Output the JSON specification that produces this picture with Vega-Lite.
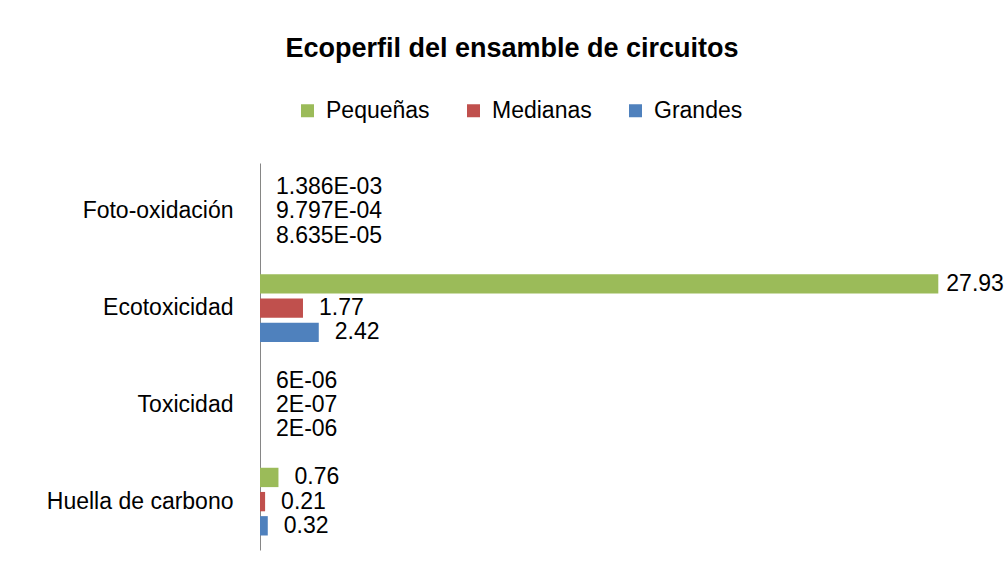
{
  "$schema": "https://vega.github.io/schema/vega-lite/v6.json",
  "autosize": {"type": "none"},
  "padding": {"left": 260, "top": 163, "right": 68, "bottom": 27},
  "width": 680,
  "height": 387,
  "background": "white",
  "title": {
    "text": "Ecoperfil del ensamble de circuitos",
    "font": "Liberation Sans",
    "fontSize": 27,
    "fontWeight": "bold",
    "color": "#000000",
    "anchor": "middle",
    "dx": -88,
    "offset": 36
  },
  "config": {
    "view": {"stroke": null},
    "font": "Liberation Sans"
  },
  "data": {
    "values": [
      {"categoria": "Foto-oxidación", "serie": "Pequeñas", "valor": 0.001386, "etiqueta": "1.386E-03"},
      {"categoria": "Foto-oxidación", "serie": "Medianas", "valor": 0.0009797, "etiqueta": "9.797E-04"},
      {"categoria": "Foto-oxidación", "serie": "Grandes", "valor": 0.00008635, "etiqueta": "8.635E-05"},
      {"categoria": "Ecotoxicidad", "serie": "Pequeñas", "valor": 27.93, "etiqueta": "27.93"},
      {"categoria": "Ecotoxicidad", "serie": "Medianas", "valor": 1.77, "etiqueta": "1.77"},
      {"categoria": "Ecotoxicidad", "serie": "Grandes", "valor": 2.42, "etiqueta": "2.42"},
      {"categoria": "Toxicidad", "serie": "Pequeñas", "valor": 0.000006, "etiqueta": "6E-06"},
      {"categoria": "Toxicidad", "serie": "Medianas", "valor": 0.0000002, "etiqueta": "2E-07"},
      {"categoria": "Toxicidad", "serie": "Grandes", "valor": 0.000002, "etiqueta": "2E-06"},
      {"categoria": "Huella de carbono", "serie": "Pequeñas", "valor": 0.76, "etiqueta": "0.76"},
      {"categoria": "Huella de carbono", "serie": "Medianas", "valor": 0.21, "etiqueta": "0.21"},
      {"categoria": "Huella de carbono", "serie": "Grandes", "valor": 0.32, "etiqueta": "0.32"}
    ]
  },
  "encoding": {
    "y": {
      "field": "categoria",
      "type": "nominal",
      "sort": ["Foto-oxidación", "Ecotoxicidad", "Toxicidad", "Huella de carbono"],
      "scale": {"paddingInner": 0.3, "paddingOuter": 0.15},
      "axis": {
        "title": null,
        "ticks": false,
        "domainColor": "#868686",
        "domainWidth": 1,
        "labelFontSize": 23,
        "labelColor": "#000000",
        "labelPadding": 27,
        "labelLimit": 400,
        "labelFont": "Liberation Sans"
      }
    },
    "yOffset": {
      "field": "serie",
      "type": "nominal",
      "sort": ["Pequeñas", "Medianas", "Grandes"],
      "scale": {"paddingInner": 0.2, "paddingOuter": 0}
    },
    "x": {
      "field": "valor",
      "type": "quantitative",
      "scale": {"domain": [0, 28], "nice": false},
      "axis": null
    }
  },
  "layer": [
    {
      "mark": {"type": "bar"},
      "encoding": {
        "color": {
          "field": "serie",
          "type": "nominal",
          "sort": ["Pequeñas", "Medianas", "Grandes"],
          "scale": {
            "domain": ["Pequeñas", "Medianas", "Grandes"],
            "range": ["#9BBB59", "#C0504D", "#4F81BD"]
          },
          "legend": {
            "title": null,
            "orient": "none",
            "direction": "horizontal",
            "legendX": 36,
            "legendY": -64,
            "symbolType": "square",
            "symbolSize": 169,
            "symbolStrokeWidth": 0,
            "labelFontSize": 23,
            "labelColor": "#000000",
            "labelFont": "Liberation Sans",
            "labelOffset": 7,
            "columnPadding": 32
          }
        }
      }
    },
    {
      "transform": [{"filter": "datum.valor < 20"}],
      "mark": {"type": "text", "align": "left", "baseline": "middle", "dx": 16, "fontSize": 23, "color": "#000000", "font": "Liberation Sans"},
      "encoding": {
        "text": {"field": "etiqueta", "type": "nominal"}
      }
    },
    {
      "transform": [{"filter": "datum.valor >= 20"}],
      "mark": {"type": "text", "align": "left", "baseline": "middle", "dx": 8, "fontSize": 23, "color": "#000000", "font": "Liberation Sans"},
      "encoding": {
        "text": {"field": "etiqueta", "type": "nominal"}
      }
    }
  ]
}
